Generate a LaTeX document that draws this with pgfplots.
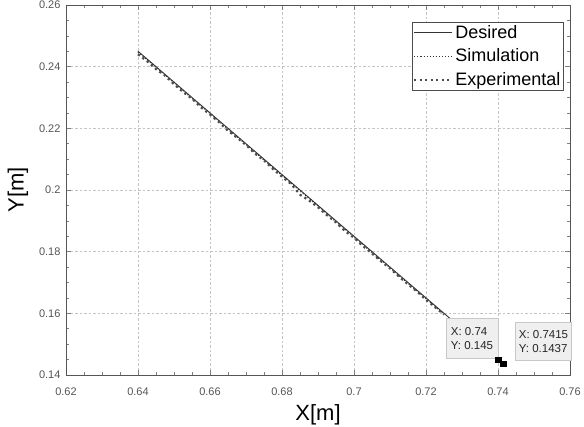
\documentclass[border=0pt]{standalone}
\usepackage{fontspec}
\setmainfont{Liberation Sans}
\usepackage{pgfplots}
\pgfplotsset{compat=1.18}
\definecolor{tick}{HTML}{555555}
\definecolor{gridc}{HTML}{C4C4C4}
\definecolor{dtfill}{HTML}{EFEFEF}
\definecolor{dtdraw}{HTML}{C8C8C8}
\begin{document}
\begin{tikzpicture}[x=1pt,y=1pt]
\useasboundingbox (0,0) rectangle (584,427);
\begin{axis}[
  at={(66pt,52pt)}, anchor=south west,
  scale only axis, width=504pt, height=370pt,
  xmin=0.62, xmax=0.76, ymin=0.14, ymax=0.26,
  xtick={0.62,0.64,...,0.761}, ytick={0.14,0.16,...,0.261},
  xticklabels={0.62,0.64,0.66,0.68,0.7,0.72,0.74,0.76},
  yticklabels={0.14,0.16,0.18,0.2,0.22,0.24,0.26},
  minor x tick num=3, minor y tick num=3,
  grid=major,
  major grid style={gridc, dash pattern=on 2.5pt off 2pt, line width=0.7pt},
  axis line style={tick, line width=0.7pt},
  tick style={tick, line width=0.5pt},
  major tick length=5pt, minor tick length=3pt,
  tick align=inside,
  xticklabel style={font=\fontsize{11}{12}\selectfont, text=tick, yshift=-9pt},
  yticklabel style={font=\fontsize{11}{12}\selectfont, text=tick, xshift=-2pt},
  /pgf/number format/assume math mode=true,
  xlabel={X[m]}, ylabel={Y[m]},
  xlabel style={font=\fontsize{22}{23}\selectfont, yshift=-2pt},
  ylabel style={font=\fontsize{22}{23}\selectfont, yshift=4pt},
  legend style={at={(0.9875,0.954)}, anchor=north east, draw=black!70, line width=0.7pt,
    font=\fontsize{18}{19}\selectfont, inner sep=1pt, row sep=5pt, cells={anchor=west},
    nodes={inner sep=2pt}},
  legend image code/.code={\draw[#1] (0pt,0pt) -- (38pt,0pt);},
  legend cell align=left,
  clip=false,
]
\addplot[color=black!80, line width=0.9pt] coordinates {(0.64,0.245) (0.74,0.145)};
\addlegendentry{Desired}
\addplot[color=black!80, line width=1.1pt, dotted] coordinates {
(0.6400,0.2447) (0.6450,0.2398) (0.6500,0.2348) (0.6550,0.2297) (0.6600,0.2248)
(0.6650,0.2197) (0.6700,0.2148) (0.6750,0.2097) (0.6800,0.2048) (0.6850,0.1997)
(0.6900,0.1948) (0.6950,0.1897) (0.7000,0.1848) (0.7050,0.1797) (0.7100,0.1748)
(0.7150,0.1697) (0.7200,0.1648) (0.7250,0.1597)};
\addlegendentry{Simulation}
\addplot[color=black!70, line width=2.2pt, dash pattern=on 2.2pt off 3.3pt] coordinates {
(0.6400,0.2440) (0.6425,0.2418) (0.6450,0.2392) (0.6475,0.2371) (0.6500,0.2343)
(0.6525,0.2318) (0.6550,0.2296) (0.6575,0.2268) (0.6600,0.2245) (0.6625,0.2220)
(0.6650,0.2192) (0.6675,0.2170) (0.6700,0.2146) (0.6725,0.2118) (0.6750,0.2096)
(0.6775,0.2068) (0.6800,0.2043) (0.6825,0.2020) (0.6850,0.1985) (0.6875,0.1966)
(0.6900,0.1944) (0.6925,0.1918) (0.6950,0.1895) (0.6975,0.1867) (0.7000,0.1845)
(0.7025,0.1818) (0.7050,0.1794) (0.7075,0.1769) (0.7100,0.1746) (0.7125,0.1719)
(0.7150,0.1694) (0.7175,0.1671) (0.7200,0.1644) (0.7225,0.1620) (0.7250,0.1596)};
\addlegendentry{Experimental}
\node[draw=dtdraw, fill=dtfill, align=left, anchor=north west, inner sep=3pt,
  font=\fontsize{11.5}{14}\selectfont, text=black!85, minimum width=52pt, minimum height=40pt]
  at (axis cs:0.7255,0.1584) {X: 0.74\\Y: 0.145};
\node[draw=dtdraw, fill=dtfill, align=left, anchor=north west, inner sep=3pt,
  font=\fontsize{11.5}{14}\selectfont, text=black!85, minimum width=56pt, minimum height=38pt]
  at (axis cs:0.7448,0.1572) {X: 0.7415\\Y: 0.1437};
\addplot[only marks, mark=square*, mark size=2.8pt, color=black, forget plot] coordinates {(0.74,0.145) (0.7415,0.1437)};
\end{axis}
\end{tikzpicture}
\end{document}
